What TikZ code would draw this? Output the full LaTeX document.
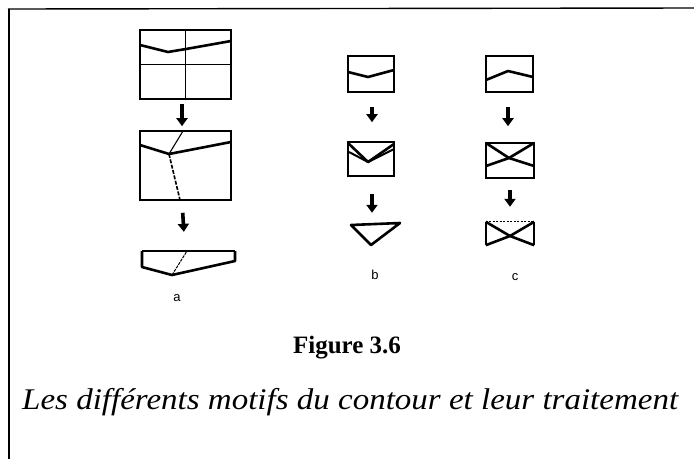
\documentclass[tikz,border=0pt]{standalone}
\usepackage{fontspec}
\setmainfont{Liberation Serif}
\newfontfamily\labfont{Liberation Sans}
\usetikzlibrary{arrows.meta}
\begin{document}
\begin{tikzpicture}[x=1pt,y=-1pt,
  boxn/.style={draw,line width=1.6pt,inner sep=0pt,minimum width=#1},
  ghost/.style={inner sep=0pt,minimum width=#1},
  contour/.style={line width=2.6pt,line join=round},
  thin crack/.style={line width=1.1pt},
  downarrow/.style={line width=3.6pt,-{Triangle[width=11pt,length=8pt]}},
  lab/.style={font=\labfont\fontsize{13}{13}\selectfont,inner sep=0pt}]
\useasboundingbox (0,0) rectangle (694,459);
% frame
\draw[line width=1.4pt] (8,9) -- (694,8);
\draw[line width=1.4pt] (9,8.5) -- (9,459);

% column a
\node[boxn=91pt,minimum height=69pt] (a1) at (185.5,64.5) {};
\draw[line width=1.4pt] (a1.north) -- (a1.south);
\draw[line width=1.4pt] (a1.west) -- (a1.east);
\draw[contour] (140,45) -- (168,52) -- (186,49) -- (231,41);

\node[boxn=91pt,minimum height=69pt] (a2) at (185.5,165.5) {};
\draw[contour] (140,145) -- (169,154) -- (231,142);
\draw[thin crack] (183,131) -- (169,154);
\draw[line width=1.6pt,dash pattern=on 4pt off 1.5pt] (169,154) -- (180,200);

\node[ghost=93pt,minimum height=24pt] (a3) at (188.5,263) {};
\draw[line width=1.6pt] (142,251) -- (235,251);
\draw[contour] (142,251) -- (142,267) -- (172,275) -- (235,261) -- (235,251);
\draw[line width=1pt,dash pattern=on 3pt off 1pt] (172,275) -- (187,251);

\draw[downarrow,shorten <=4pt,shorten >=4pt] ([xshift=-3.5pt]a1.south) -- ([xshift=-3.5pt]a2.north);
\draw[downarrow,shorten <=12pt,shorten >=19pt] ([xshift=-3.5pt]a2.south) -- ([xshift=-3.5pt]a3.north);
\node[lab] (la) at (177,298) {a};

% column b
\node[boxn=46pt,minimum height=36pt] (b1) at (371,74) {};
\draw[contour] (348,72) -- (368,77) -- (394,70);

\node[boxn=46pt,minimum height=34pt] (b2) at (371,159) {};
\draw[contour] (348,143) -- (368,162) -- (394,144);
\draw[line width=2pt] (349,152) -- (368,162) -- (394,149);

\node[ghost=49pt,minimum height=22pt] (b3) at (375.5,234) {};
\draw[contour] (351,225) -- (400,223) -- (371,245) -- cycle;

\draw[downarrow,shorten <=14pt,shorten >=19pt] ([xshift=1pt]b1.south) -- ([xshift=1pt]b2.north);
\draw[downarrow,shorten <=17pt,shorten >=10pt] ([xshift=1pt]b2.south) -- ([xshift=-3.5pt]b3.north);
\node[lab] (lb) at (375,275) {b};

% column c
\node[boxn=47pt,minimum height=36pt] (c1) at (509.5,74) {};
\draw[contour] (486,80) -- (508,71) -- (533,77);

\node[boxn=48pt,minimum height=35pt] (c2) at (510,160.5) {};
\draw[contour] (486,143) -- (509,158) -- (534,166);
\draw[contour] (486,166) -- (509,158) -- (534,143);

\node[ghost=48pt,minimum height=23pt] (c3) at (510,233.5) {};
\draw[line width=1.6pt] (c3.north west) -- (c3.south west);
\draw[line width=1.6pt] (c3.north east) -- (c3.south east);
\draw[line width=1.2pt,dash pattern=on 2pt off 1.5pt] (c3.north west) -- (c3.north east);
\draw[contour] (c3.north west) -- (510,236) -- (c3.south east);
\draw[contour] (c3.north east) -- (510,236) -- (c3.south west);

\draw[downarrow,shorten <=14pt,shorten >=16pt] ([xshift=-1.5pt]c1.south) -- ([xshift=-2pt]c2.north);
\draw[downarrow,shorten <=11pt,shorten >=15pt] (c2.south) -- (c3.north);
\node[lab] (lc) at (515,277) {c};

% captions
\node[font=\fontsize{25}{25}\selectfont\bfseries,inner sep=0pt,anchor=base] (fig) at (347,353) {Figure 3.6};
\node[inner sep=0pt,anchor=base west] (cap) at (22,409)
  {\scalebox{1.1}[1]{\fontsize{30}{30}\selectfont\itshape Les différents motifs du contour et leur traitement}};
\end{tikzpicture}
\end{document}
